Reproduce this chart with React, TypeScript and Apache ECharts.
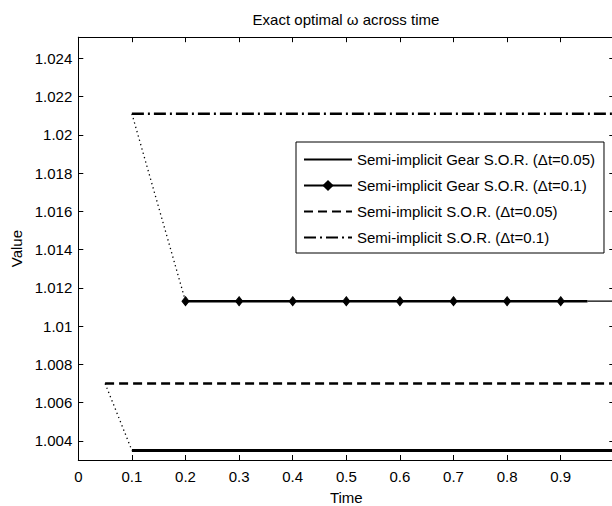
import React, { useEffect, useRef } from 'react';
import * as echarts from 'echarts';

// ---- data ----
const xTickValues = [0, 0.1, 0.2, 0.3, 0.4, 0.5, 0.6, 0.7, 0.8, 0.9, 1];
const xLabelValues = [0, 0.1, 0.2, 0.3, 0.4, 0.5, 0.6, 0.7, 0.8, 0.9];
const yTickValues = [1.004, 1.006, 1.008, 1.01, 1.012, 1.014, 1.016, 1.018, 1.02, 1.022, 1.024];

const seriesNames = [
  'Semi-implicit Gear S.O.R. (\u0394t=0.05)',
  'Semi-implicit Gear S.O.R. (\u0394t=0.1)',
  'Semi-implicit S.O.R. (\u0394t=0.05)',
  'Semi-implicit S.O.R. (\u0394t=0.1)',
];

// Gear S.O.R. dt=0.05
const gear005Time = [0.1, 0.15, 0.2, 0.25, 0.3, 0.35, 0.4, 0.45, 0.5, 0.55, 0.6, 0.65, 0.7, 0.75, 0.8, 0.85, 0.9, 0.95, 1.0];
const gear005Value = [1.0035, 1.0035, 1.0035, 1.0035, 1.0035, 1.0035, 1.0035, 1.0035, 1.0035, 1.0035, 1.0035, 1.0035, 1.0035, 1.0035, 1.0035, 1.0035, 1.0035, 1.0035, 1.0035];

// Gear S.O.R. dt=0.1 (diamond markers)
const gear01Time = [0.2, 0.3, 0.4, 0.5, 0.6, 0.7, 0.8, 0.9, 0.95];
const gear01Value = [1.0113, 1.0113, 1.0113, 1.0113, 1.0113, 1.0113, 1.0113, 1.0113, 1.0113];
const gear01TailTime = [0.95, 1.0];
const gear01TailValue = [1.0113, 1.0113];

// S.O.R. dt=0.05
const sor005Time = [0.05, 0.1, 0.15, 0.2, 0.25, 0.3, 0.35, 0.4, 0.45, 0.5, 0.55, 0.6, 0.65, 0.7, 0.75, 0.8, 0.85, 0.9, 0.95, 1.0];
const sor005Value = [1.007, 1.007, 1.007, 1.007, 1.007, 1.007, 1.007, 1.007, 1.007, 1.007, 1.007, 1.007, 1.007, 1.007, 1.007, 1.007, 1.007, 1.007, 1.007, 1.007];

// S.O.R. dt=0.1
const sor01Time = [0.1, 0.2, 0.3, 0.4, 0.5, 0.6, 0.7, 0.8, 0.9, 1.0];
const sor01Value = [1.0211, 1.0211, 1.0211, 1.0211, 1.0211, 1.0211, 1.0211, 1.0211, 1.0211, 1.0211];

// dotted transitions
const trans01Time = [0.1, 0.2];
const trans01Value = [1.0211, 1.0113];
const trans005Time = [0.05, 0.1];
const trans005Value = [1.007, 1.0035];

const FONT = '"Liberation Sans", Arial, Helvetica, sans-serif';

function zip(t: number[], v: number[]) {
  return t.map((x, i) => [x, v[i]]);
}

function xAxisCfg(position: 'bottom' | 'top', showLabel: boolean) {
  return {
    type: 'value',
    position,
    min: 0,
    max: 1,
    name: showLabel ? 'Time' : '',
    nameLocation: 'middle',
    nameGap: 30,
    nameTextStyle: { color: '#000', fontSize: 15, fontFamily: FONT },
    axisLine: { show: true, onZero: false, lineStyle: { color: '#000', width: 1 } },
    axisTick: { show: true, inside: true, length: 5, customValues: xTickValues, lineStyle: { color: '#000', width: 1 } },
    axisLabel: {
      show: showLabel,
      customValues: xLabelValues,
      margin: 9,
      color: '#000',
      fontSize: 15,
      fontFamily: FONT,
      formatter: (v: number) => String(+v.toFixed(1)),
    },
    splitLine: { show: false },
  };
}

function yAxisCfg(position: 'left' | 'right', showLabel: boolean) {
  return {
    type: 'value',
    position,
    min: 1.003,
    max: 1.0251,
    name: showLabel ? 'Value' : '',
    nameLocation: 'middle',
    nameGap: 50,
    nameRotate: 90,
    nameTextStyle: { color: '#000', fontSize: 15, fontFamily: FONT },
    axisLine: { show: true, onZero: false, lineStyle: { color: '#000', width: 1 } },
    axisTick: { show: true, inside: true, length: 5, customValues: yTickValues, lineStyle: { color: '#000', width: 1 } },
    axisLabel: {
      show: showLabel,
      customValues: yTickValues,
      margin: 6,
      color: '#000',
      fontSize: 15,
      fontFamily: FONT,
      formatter: (v: number) => String(+v.toFixed(3)),
    },
    splitLine: { show: false },
  };
}

export default function App() {
  const ref = useRef<HTMLDivElement>(null);

  useEffect(() => {
    if (!ref.current) return;
    const chart = echarts.init(ref.current, null, { renderer: 'svg' });

    const gear01Data: any[] = zip(gear01Time, gear01Value).map((p, i) =>
      i === gear01Time.length - 1 ? { value: p, symbol: 'none' } : p
    );

    const hiddenSymbol = { opacity: 0 };

    const option: any = {
      animation: false,
      backgroundColor: '#fff',
      textStyle: { fontFamily: FONT },
      grid: {
        left: 78.3,
        right: -2.3,
        top: 37.2,
        bottom: 46,
        containLabel: false,
        outerBoundsMode: 'none',
      },
      graphic: [
        {
          type: 'text',
          x: 346,
          y: 19,
          style: {
            text: 'Exact optimal \u03c9 across time',
            align: 'center',
            verticalAlign: 'middle',
            fill: '#000',
            fontSize: 15,
            fontFamily: FONT,
          },
        },
      ],
      xAxis: [xAxisCfg('bottom', true), xAxisCfg('top', false)],
      yAxis: [yAxisCfg('left', true), yAxisCfg('right', false)],
      legend: {
        data: [
          { name: seriesNames[0], itemStyle: hiddenSymbol },
          { name: seriesNames[1] },
          { name: seriesNames[2], itemStyle: hiddenSymbol },
          { name: seriesNames[3], itemStyle: hiddenSymbol },
        ],
        orient: 'vertical',
        left: 296,
        top: 142,
        padding: [10, 9, 8, 7],
        itemGap: 11,
        itemWidth: 48,
        itemHeight: 14,
        backgroundColor: '#fff',
        borderColor: '#000',
        borderWidth: 1,
        borderRadius: 0,
        textStyle: { color: '#000', fontSize: 15, fontFamily: FONT },
      },
      series: [
        {
          name: seriesNames[0],
          type: 'line',
          data: zip(gear005Time, gear005Value),
          symbol: 'none',
          lineStyle: { color: '#000', width: 3, type: 'solid' },
          itemStyle: { color: '#000' },
          z: 3,
        },
        {
          name: seriesNames[1],
          type: 'line',
          data: gear01Data,
          symbol: 'diamond',
          symbolSize: [7, 9],
          showAllSymbol: true,
          lineStyle: { color: '#000', width: 2.5, type: 'solid' },
          itemStyle: { color: '#000', borderColor: '#000' },
          z: 4,
        },
        {
          name: seriesNames[2],
          type: 'line',
          data: zip(sor005Time, sor005Value),
          symbol: 'none',
          lineStyle: { color: '#000', width: 2.5, type: [9, 5] },
          itemStyle: { color: '#000' },
          z: 3,
        },
        {
          name: seriesNames[3],
          type: 'line',
          data: zip(sor01Time, sor01Value),
          symbol: 'none',
          lineStyle: { color: '#000', width: 2.5, type: [12, 4, 2, 4] },
          itemStyle: { color: '#000' },
          z: 3,
        },
        {
          name: 'gear01-tail',
          type: 'line',
          data: zip(gear01TailTime, gear01TailValue),
          symbol: 'none',
          lineStyle: { color: '#000', width: 1.2, type: 'solid' },
          z: 2,
        },
        {
          name: 'trans01',
          type: 'line',
          data: zip(trans01Time, trans01Value),
          symbol: 'none',
          lineStyle: { color: '#000', width: 1.3, type: [1.3, 3.2] },
          z: 2,
        },
        {
          name: 'trans005',
          type: 'line',
          data: zip(trans005Time, trans005Value),
          symbol: 'none',
          lineStyle: { color: '#000', width: 1.3, type: [1.3, 3.2] },
          z: 2,
        },
      ],
    };

    chart.setOption(option);
    return () => chart.dispose();
  }, []);

  return (
    <div
      ref={ref}
      style={{ position: 'fixed', left: 0, top: 0, width: 612, height: 506, background: '#fff' }}
    />
  );
}
